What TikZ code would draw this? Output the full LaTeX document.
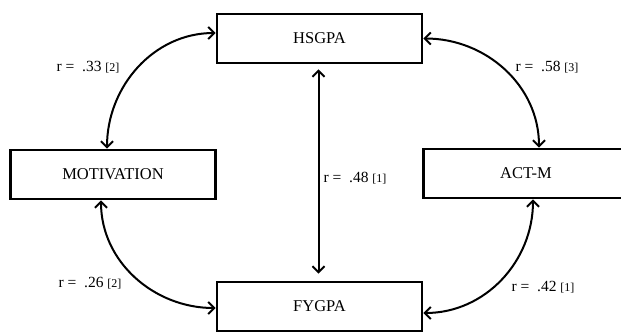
\documentclass[tikz,border=0pt]{standalone}
\usepackage{fontspec}
\setmainfont{Liberation Serif}
\usepackage{tikz}
\usetikzlibrary{arrows.meta}
\newcommand{\varnode}[3] {\node at (#1) (#2) [varbox] {#3};}
\newcommand{\corrlabel}[4] {\node at (#1) (#2) [corrtext] {r = \ .#3 {\fontsize{12}{14}\selectfont[#4]}};}
\newcommand{\corrarc}[4] {\draw [corr] (#1) to[out=#3, in=#4] (#2);}

\begin{document}
\begin{tikzpicture}[x=1pt, y=-1pt,
  varbox/.style={draw, line width=2.8pt, minimum width=205pt, minimum height=49pt, inner sep=0pt, font=\fontsize{16.5}{19}\selectfont},
  corrtext/.style={inner sep=1pt, font=\fontsize{15.5}{18}\selectfont},
  corr/.style={line width=2pt, {Straight Barb[length=6pt, width=12pt]}-{Straight Barb[length=6pt, width=12pt]}}]
\useasboundingbox (0,0) rectangle (621,333);

\varnode {319.5,38.5}{hsgpa}{HSGPA};
\varnode {113,174.5}{motivation}{MOTIVATION};
\varnode {526,173.5}{actm}{ACT-M};
\varnode {319.5,306.5}{fygpa}{FYGPA};

\corrarc {[yshift=5.5pt]hsgpa.west}{[xshift=-6pt]motivation.north}{180}{90};
\corrarc {hsgpa.east}{[xshift=13pt]actm.north}{0}{90};
\corrarc {[xshift=-12pt]motivation.south}{[yshift=-1.5pt]fygpa.west}{-90}{180};
\corrarc {[xshift=7pt]actm.south}{[yshift=-6.5pt]fygpa.east}{-90}{0};
\draw [corr, shorten <=5pt, shorten >=7pt] ([xshift=-1pt]hsgpa.south) -- ([xshift=-1pt]fygpa.north);

\corrlabel {88,67}{rhm}{33}{2};
\corrlabel {547,67}{rha}{58}{3};
\corrlabel {355,178}{rhf}{48}{1};
\corrlabel {90,283}{rmf}{26}{2};
\corrlabel {543,287}{raf}{42}{1};

\end{tikzpicture}
\end{document}
